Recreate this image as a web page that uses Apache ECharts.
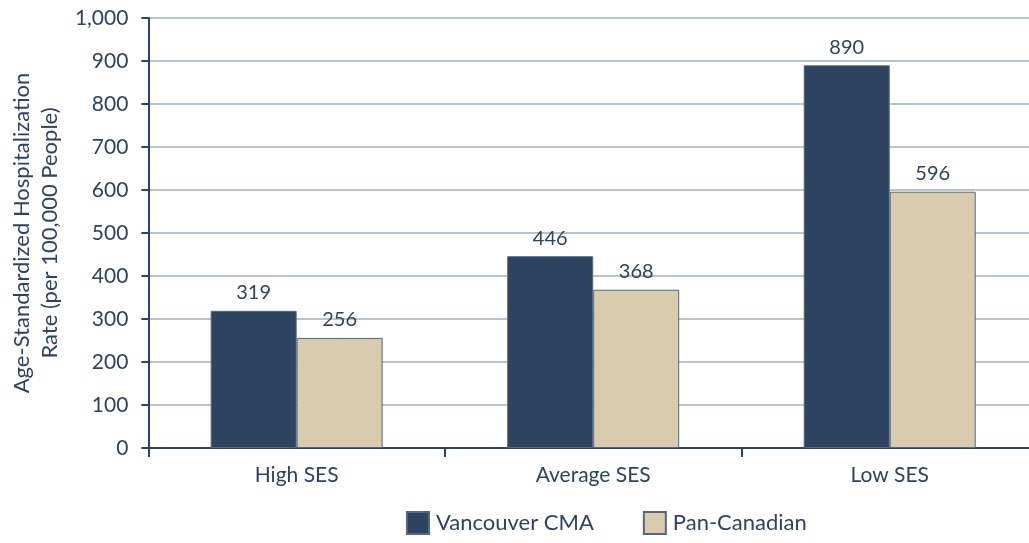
<!DOCTYPE html>
<html><head><meta charset="utf-8">
<script src="https://cdn.jsdelivr.net/npm/echarts@6/dist/echarts.min.js"></script>
<style>html,body{margin:0;padding:0;background:#fff;overflow:hidden;width:1029px;height:543px}#c{width:1045px;height:543px}</style>
</head><body><div id="c"></div>
<script>
var categories = ['High SES', 'Average SES', 'Low SES'];
var vancouver = [319, 446, 890];
var panCanadian = [256, 368, 596];
var seriesNames = ['Vancouver CMA', 'Pan-Canadian'];
var yTicks = [0, 100, 200, 300, 400, 500, 600, 700, 800, 900, 1000];

var txt = '#2e4360';
var font = 'Lato';
var chart = echarts.init(document.getElementById('c'));
chart.setOption({
  animation: false,
  textStyle: { fontFamily: font, color: txt },
  grid: { left: 148, top: 18, width: 890, height: 430, containLabel: false },
  legend: {
    data: seriesNames,
    bottom: 3, left: 401,
    itemWidth: 22, itemHeight: 22, itemGap: 49,
    textStyle: { fontFamily: font, fontSize: 22, color: txt, padding: [0, 0, 0, 2] },
    icon: 'rect'
  },
  xAxis: {
    type: 'category', data: categories,
    axisLine: { lineStyle: { color: txt, width: 2 } },
    axisTick: { show: true, alignWithLabel: false, length: 9, lineStyle: { color: txt, width: 2 } },
    axisLabel: { fontFamily: font, fontSize: 21, color: txt, margin: 17 }
  },
  yAxis: {
    type: 'value', min: yTicks[0], max: yTicks[yTicks.length - 1], interval: 100,
    name: 'Age-Standardized Hospitalization\nRate (per 100,000 People)',
    nameLocation: 'middle', nameGap: 74, nameRotate: 90,
    nameTextStyle: { fontFamily: font, fontSize: 22, color: txt, lineHeight: 28 },
    axisLine: { show: true, lineStyle: { color: txt, width: 2 } },
    axisTick: { show: true, length: 7, lineStyle: { color: txt, width: 2 } },
    axisLabel: {
      fontFamily: font, fontSize: 21, color: txt, margin: 20,
      formatter: function (v) { return v.toLocaleString('en-US'); }
    },
    splitLine: { lineStyle: { color: '#9cafc5', width: 1.5 } }
  },
  series: [
    {
      name: seriesNames[0], type: 'bar', data: vancouver,
      barWidth: 86, barGap: '0%',
      itemStyle: { color: '#2e4360', borderColor: '#56677d', borderWidth: 1 },
      label: { show: true, position: 'top', distance: 8, fontFamily: font, fontSize: 20, color: txt }
    },
    {
      name: seriesNames[1], type: 'bar', data: panCanadian,
      barWidth: 86, barGap: '0%',
      itemStyle: { color: '#d9ccae', borderColor: '#56677d', borderWidth: 1 },
      label: { show: true, position: 'top', distance: 8, fontFamily: font, fontSize: 20, color: txt }
    }
  ]
});
</script></body></html>
